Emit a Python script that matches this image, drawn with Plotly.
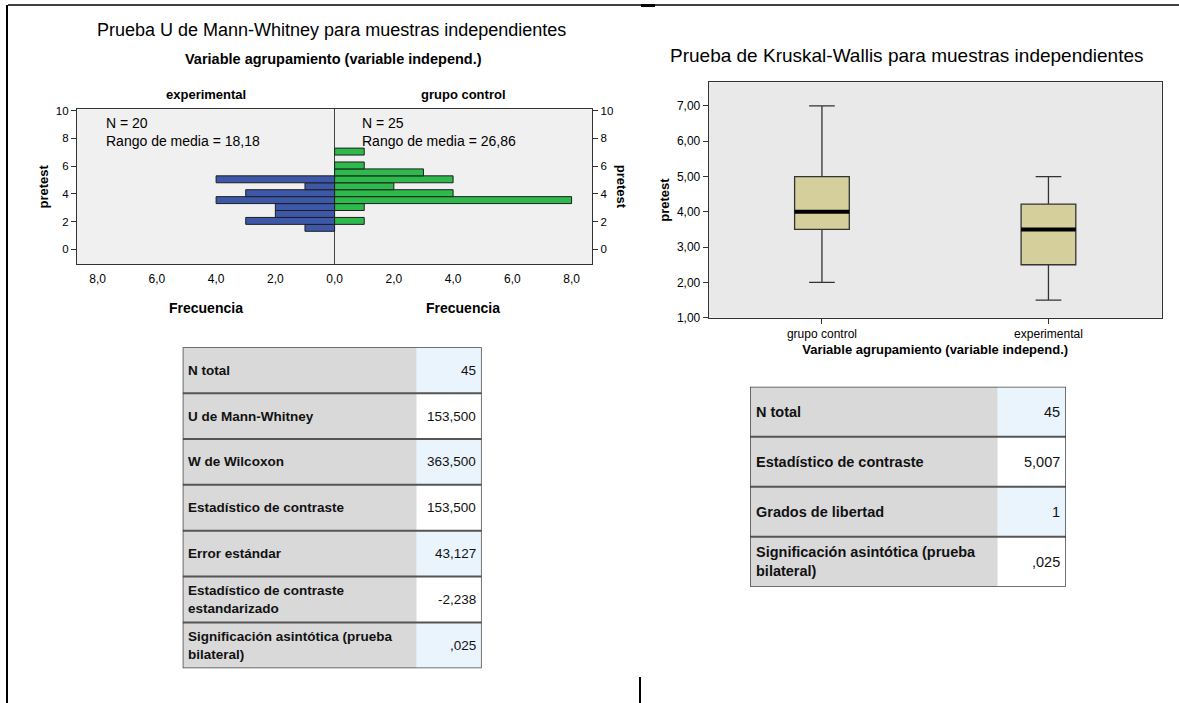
import plotly.graph_objects as go

W, H = 1179, 703

# ---------------- data: Mann-Whitney histogram ----------------
BIN_CENTERS = [1.55, 2.05, 2.55, 3.05, 3.55, 4.05, 4.55, 5.05, 5.55, 6.05, 6.55, 7.05]
EXP_COUNTS = [1, 3, 2, 2, 4, 3, 1, 4, 0, 0, 0, 0]
CTRL_COUNTS = [0, 1, 0, 1, 8, 4, 2, 4, 3, 1, 0, 1]
BIN_WIDTH = 0.5
HIST_GROUPS = ["experimental", "grupo control"]
HIST_N = [20, 25]
HIST_MEAN_RANK = [18.18, 26.86]
FREQ_TICKS = [-8, -6, -4, -2, 0, 2, 4, 6, 8]
PRETEST_TICKS = [0, 2, 4, 6, 8, 10]

# ---------------- data: Kruskal-Wallis boxplot ----------------
BOX_GROUPS = ["grupo control", "experimental"]
BOX_LOWER = [2.0, 1.5]
BOX_Q1 = [3.5, 2.5]
BOX_MEDIAN = [4.0, 3.5]
BOX_Q3 = [5.0, 4.22]
BOX_UPPER = [7.0, 5.0]
BOX_TICKS = [1, 2, 3, 4, 5, 6, 7]

# ---------------- data: tables ----------------
MW_LABELS = ["N total", "U de Mann-Whitney", "W de Wilcoxon", "Estadístico de contraste",
             "Error estándar", "Estadístico de contraste<br>estandarizado",
             "Significación asintótica (prueba<br>bilateral)"]
MW_VALUES = [45, 153.5, 363.5, 153.5, 43.127, -2.238, 0.025]
KW_LABELS = ["N total", "Estadístico de contraste", "Grados de libertad",
             "Significación asintótica (prueba<br>bilateral)"]
KW_VALUES = [45, 5.007, 1, 0.025]

FONT = "Liberation Sans, Arial, sans-serif"
BLUE = "#3D58A9"
GREEN = "#2DB94B"
OUT = "#1E1E1E"
INK = "#000000"


def fx(px):
    return px / W


def fy(py):
    return 1 - py / H


def fmt_stat(v):
    if isinstance(v, int):
        return str(v)
    s = f"{v:.3f}".replace(".", ",")
    if s.startswith("0,"):
        s = s[1:]
    elif s.startswith("-0,"):
        s = "-" + s[2:]
    return s


def fmt_freq(v):
    return f"{abs(v):.1f}".replace(".", ",")


fig = go.Figure()

# ---------- histogram (back-to-back) ----------
exp_y = [c for c, n in zip(BIN_CENTERS, EXP_COUNTS) if n > 0]
exp_x = [-n for n in EXP_COUNTS if n > 0]
ctl_y = [c for c, n in zip(BIN_CENTERS, CTRL_COUNTS) if n > 0]
ctl_x = [n for n in CTRL_COUNTS if n > 0]

fig.add_trace(go.Bar(x=exp_x, y=exp_y, orientation="h", width=BIN_WIDTH, base=0,
                     marker=dict(color=BLUE, line=dict(color=OUT, width=1)),
                     xaxis="x", yaxis="y", hoverinfo="skip"))
fig.add_trace(go.Bar(x=ctl_x, y=ctl_y, orientation="h", width=BIN_WIDTH, base=0,
                     marker=dict(color=GREEN, line=dict(color=OUT, width=1)),
                     xaxis="x", yaxis="y", hoverinfo="skip"))
fig.add_trace(go.Scatter(x=[None], y=[None], xaxis="x", yaxis="y2", hoverinfo="skip"))

# ---------- boxplot ----------
BOX_W = 0.2415
for i, g in enumerate(BOX_GROUPS):
    fig.add_trace(go.Box(x=[i], q1=[BOX_Q1[i]], median=[BOX_MEDIAN[i]], q3=[BOX_Q3[i]],
                         lowerfence=[BOX_LOWER[i]], upperfence=[BOX_UPPER[i]],
                         width=BOX_W, whiskerwidth=0.47, boxpoints=False,
                         fillcolor="#D4CF9B", line=dict(color="#333333", width=1.3),
                         xaxis="x2", yaxis="y3", hoverinfo="skip", name=g))
med_x, med_y = [], []
for i, m in enumerate(BOX_MEDIAN):
    med_x += [i - BOX_W / 2, i + BOX_W / 2, None]
    med_y += [m, m, None]
fig.add_trace(go.Scatter(x=med_x, y=med_y, mode="lines", line=dict(color="black", width=4),
                         xaxis="x2", yaxis="y3", hoverinfo="skip"))

# ---------- tables (hidden axes) ----------
fig.add_trace(go.Scatter(x=[None], y=[None], xaxis="x3", yaxis="y4", hoverinfo="skip"))
fig.add_trace(go.Scatter(x=[None], y=[None], xaxis="x4", yaxis="y5", hoverinfo="skip"))

shapes = []
annotations = []


def build_table(labels, values, xr, yr, split, fsize_lab, fsize_val, pad):
    n = len(labels)
    for i, (lab, val) in enumerate(zip(labels, values)):
        shapes.append(dict(type="rect", xref=xr, yref=yr, x0=0, x1=split, y0=i, y1=i + 1,
                           fillcolor="#D9D9DA", line=dict(width=0), layer="above"))
        shapes.append(dict(type="rect", xref=xr, yref=yr, x0=split, x1=1, y0=i, y1=i + 1,
                           fillcolor="#EAF4FD" if i % 2 == 0 else "#FFFFFF",
                           line=dict(width=0), layer="above"))
        annotations.append(dict(xref=xr, yref=yr, x=pad, y=i + 0.5, text="<b>%s</b>" % lab,
                                showarrow=False, xanchor="left", yanchor="middle", align="left",
                                font=dict(size=fsize_lab, color="#111")))
        annotations.append(dict(xref=xr, yref=yr, x=1 - pad, y=i + 0.5, text=fmt_stat(val),
                                showarrow=False, xanchor="right", yanchor="middle", align="right",
                                font=dict(size=fsize_val, color="#111")))
    for i in range(1, n):
        shapes.append(dict(type="line", xref=xr, yref=yr, x0=0, x1=1, y0=i, y1=i,
                           line=dict(color="#555555", width=2), layer="above"))
    shapes.append(dict(type="rect", xref=xr, yref=yr, x0=0, x1=1, y0=0, y1=n,
                       line=dict(color="#444444", width=1.5), layer="above"))


build_table(MW_LABELS, MW_VALUES, "x3", "y4", 0.7826, 13.5, 13.5, 0.012)
build_table(KW_LABELS, KW_VALUES, "x4", "y5", 0.784, 14.5, 14.5, 0.012)

# ---------- plot backgrounds ----------
shapes.append(dict(type="rect", xref="x domain", yref="y domain", x0=0, x1=1, y0=0, y1=1,
                   fillcolor="#F0F0F0", line=dict(width=0), layer="below"))
shapes.append(dict(type="rect", xref="x2 domain", yref="y3 domain", x0=0, x1=1, y0=0, y1=1,
                   fillcolor="#E9E9E9", line=dict(width=0), layer="below"))

# ---------- page frame lines ----------
shapes += [
    dict(type="line", xref="paper", yref="paper", x0=fx(8), x1=fx(1179), y0=fy(5), y1=fy(5),
         line=dict(color="black", width=1.5)),
    dict(type="line", xref="paper", yref="paper", x0=fx(641), x1=fx(655), y0=fy(5.5), y1=fy(5.5),
         line=dict(color="black", width=3)),
    dict(type="line", xref="paper", yref="paper", x0=fx(7), x1=fx(7), y0=fy(5), y1=fy(703),
         line=dict(color="black", width=2)),
    dict(type="line", xref="paper", yref="paper", x0=fx(640), x1=fx(640), y0=fy(677), y1=fy(703),
         line=dict(color="black", width=2)),
]

# ---------- text annotations ----------
CM = dict(showarrow=False, xanchor="center", yanchor="middle")
annotations += [
    dict(xref="paper", yref="paper", x=fx(331), y=fy(30),
         text="Prueba U de Mann-Whitney para muestras independientes",
         font=dict(size=18, color=INK), **CM),
    dict(xref="paper", yref="paper", x=fx(333), y=fy(59),
         text="<b>Variable agrupamiento (variable independ.)</b>",
         font=dict(size=14.5, color=INK), **CM),
    dict(xref="paper", yref="paper", x=fx(906.7), y=fy(55),
         text="Prueba de Kruskal-Wallis para muestras independientes",
         font=dict(size=19, color=INK), **CM),
    dict(xref="paper", yref="paper", x=fx(621), y=fy(186.8), text="<b>pretest</b>",
         textangle=90, font=dict(size=13, color=INK), **CM),
]
for k, side in enumerate([-1, 1]):
    annotations.append(dict(xref="x", yref="paper", x=side * 4.35, y=fy(95),
                            text="<b>%s</b>" % HIST_GROUPS[k],
                            font=dict(size=13, color=INK), **CM))
    annotations.append(dict(xref="x", yref="paper", x=side * 4.35, y=fy(308),
                            text="<b>Frecuencia</b>", font=dict(size=14, color=INK), **CM))
    annotations.append(dict(xref="x", yref="y", x=(-7.8 if side < 0 else 0.85), y=8.45,
                            text="N = %d<br>Rango de media = %s" % (
                                HIST_N[k], f"{HIST_MEAN_RANK[k]:.2f}".replace(".", ",")),
                            showarrow=False, xanchor="left", yanchor="middle", align="left",
                            font=dict(size=14, color=INK)))

axis_line = dict(showline=True, linecolor="#333333", linewidth=1, showgrid=False, color=INK)

fig.update_layout(
    template="none",
    width=W, height=H, autosize=False,
    margin=dict(l=0, r=0, t=0, b=0),
    paper_bgcolor="white", plot_bgcolor="rgba(0,0,0,0)",
    font=dict(family=FONT, color=INK, size=12),
    separators=",.",
    showlegend=False, hovermode=False,
    barmode="overlay",
    xaxis=dict(domain=[fx(76.9), fx(592.3)], range=[-8.7, 8.7], anchor="y",
               tickvals=FREQ_TICKS, ticktext=[fmt_freq(v) for v in FREQ_TICKS],
               ticks="", ticklabelstandoff=3, tickfont=dict(size=12, color=INK),
               zeroline=True, zerolinecolor="#444444", zerolinewidth=1,
               mirror=True, **axis_line),
    yaxis=dict(domain=[fy(264.3), fy(109.3)], range=[-1.08, 10.1], anchor="x",
               tickvals=PRETEST_TICKS, ticks="outside", ticklen=5, tickcolor="#333333",
               tickfont=dict(size=11.5, color=INK), zeroline=False, mirror=True,
               title=dict(text="<b>pretest</b>", font=dict(size=13, color=INK), standoff=4),
               **axis_line),
    yaxis2=dict(overlaying="y", side="right", anchor="x", range=[-1.08, 10.1],
                tickvals=PRETEST_TICKS, ticks="outside", ticklen=5, tickcolor="#333333",
                tickfont=dict(size=11.5, color=INK), color=INK,
                showgrid=False, zeroline=False, showline=False),
    xaxis2=dict(domain=[fx(708.7), fx(1161.7)], range=[-0.5, 1.5], anchor="y3",
                tickvals=list(range(len(BOX_GROUPS))), ticktext=BOX_GROUPS,
                ticks="outside", ticklen=5, tickcolor="#333333",
                tickfont=dict(size=12, color=INK), zeroline=False, mirror=True,
                title=dict(text="<b>Variable agrupamiento (variable independ.)</b>",
                           font=dict(size=13, color=INK), standoff=4),
                **axis_line),
    yaxis3=dict(domain=[fy(317.7), fy(82.3)], range=[1, 7.67], anchor="x2",
                tickvals=BOX_TICKS, tickformat=".2f", ticks="outside", ticklen=5,
                tickcolor="#333333", tickfont=dict(size=12, color=INK),
                zeroline=False, mirror=True,
                title=dict(text="<b>pretest</b>", font=dict(size=13, color=INK), standoff=4),
                **axis_line),
    xaxis3=dict(domain=[fx(182.7), fx(481.7)], range=[0, 1], anchor="y4", visible=False),
    yaxis4=dict(domain=[fy(668.3), fy(347.3)], range=[len(MW_LABELS), 0], anchor="x3",
                visible=False),
    xaxis4=dict(domain=[fx(750), fx(1066)], range=[0, 1], anchor="y5", visible=False),
    yaxis5=dict(domain=[fy(586.7), fy(386.7)], range=[len(KW_LABELS), 0], anchor="x4",
                visible=False),
    shapes=shapes,
    annotations=annotations,
)

fig.write_html("out.html", config={"displayModeBar": False},
               post_script="document.body.style.margin='0px';")
